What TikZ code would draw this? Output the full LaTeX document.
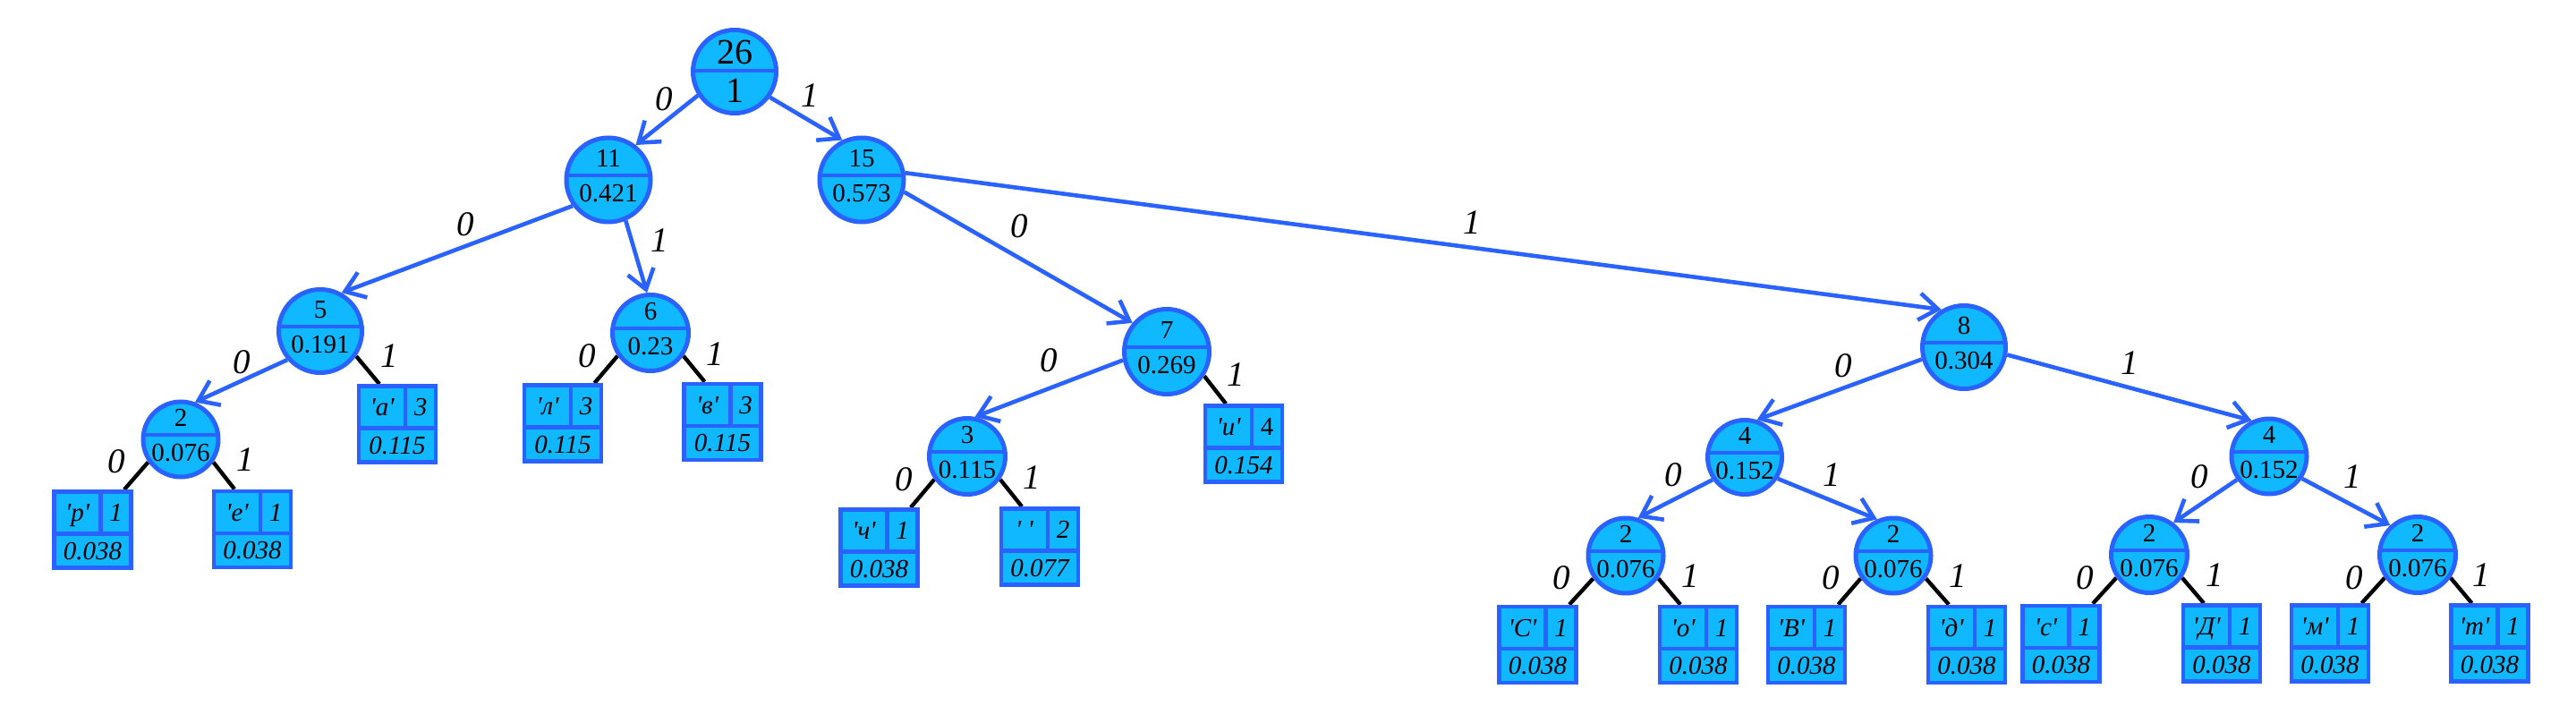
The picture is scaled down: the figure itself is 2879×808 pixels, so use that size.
\documentclass[tikz,border=0pt]{standalone}
\usepackage{fontspec}
\setmainfont{Liberation Serif}[Ligatures=TeXOff]
\usetikzlibrary{arrows.meta,calc}
\pgfdeclarelayer{bg}
\pgfsetlayers{bg,main}
\definecolor{nfill}{RGB}{16,185,255}
\definecolor{nline}{RGB}{41,98,255}
\newcommand\nfont{\fontsize{14.5pt}{17pt}\selectfont}
\newcommand\rfont{\fontsize{20pt}{23pt}\selectfont}
\newcommand\efont{\fontsize{19.5pt}{22pt}\selectfont\itshape}
\tikzset{
  hnode/.style={circle, draw=nline, fill=nfill, line width=2.5pt, inner sep=0pt,
    minimum size=#1*0.5pt,
    path picture={\draw[nline, line width=2.4pt]
      ([yshift=2.5pt]path picture bounding box.west) -- ([yshift=2.5pt]path picture bounding box.east);}},
  rnode/.style={circle, draw=nline, fill=nfill, line width=2.5pt, inner sep=0pt,
    minimum size=#1*0.5pt,
    path picture={\draw[nline, line width=2.4pt]
      ([yshift=0.5pt]path picture bounding box.west) -- ([yshift=0.5pt]path picture bounding box.east);}},
  ntext/.style={inner sep=0pt, font=\nfont, text height=9.7pt, text depth=0pt},
  rtext/.style={inner sep=0pt, font=\rfont, text height=13.4pt, text depth=0pt},
  ltext/.style={inner sep=0pt, font=\nfont\itshape, text height=9.7pt, text depth=0pt},
  elab/.style={inner sep=0pt, font=\efont, text height=13.1pt, text depth=0pt},
  leafbox/.style={rectangle, draw=nline, fill=nfill, line width=2.4pt, inner sep=0pt,
    minimum width=43pt, minimum height=42.5pt},
  leafline/.style={draw=nline, line width=2.4pt},
  arr/.style={draw=nline, line width=2.3pt, -{Straight Barb[length=10.5pt,width=15pt]}},
  blk/.style={draw=black, line width=2.2pt}
}
\newcommand\hnodeat[6]{%
  \node[hnode=#4] (#1) at (#2,#3) {};
  \node[ntext] (#1t) at ($(#1)+(0,-24)$) {#5};
  \node[ntext] (#1b) at ($(#1)+(0,15)$) {#6};}
\newcommand\hleafat[6]{%
  \node[leafbox] (#1) at (#2,#3) {};
  \draw[leafline] ($(#1.west)+(0,4.5)$) -- ($(#1.east)+(0,4.5)$);
  \draw[leafline] ($(#1.north)+(9,0)$) -- ($(#1.center)+(9,4.5)$);
  \node[ltext] (#1-c) at ($(#1)+(-17,-19)$) {#4};
  \node[ltext] (#1-n) at ($(#1)+(26,-19)$) {#5};
  \node[ltext] (#1-p) at ($(#1)+(0,23.5)$) {#6};}
\newcommand\lconn[2]{\begin{pgfonlayer}{bg}\draw[blk] (#1.-145) -- ($(#2.north west)!0.89!(#2.north east)$);\end{pgfonlayer}}
\newcommand\rconn[3][-35]{\begin{pgfonlayer}{bg}\draw[blk] (#2.#1) -- ($(#3.north west)!0.28!(#3.north east)$);\end{pgfonlayer}}
\begin{document}
\begin{tikzpicture}[x=0.5pt,y=-0.5pt]
\useasboundingbox (0,0) rectangle (2879,808);
% root
\node[rnode=93] (root) at (821,80) {};
\node[rtext] (roott) at ($(root)+(0,-22)$) {26};
\node[rtext] (rootb) at ($(root)+(0,21)$) {1};
% internal nodes
\hnodeat{n11}{680}{201}{94}{11}{0.421}
\hnodeat{n15}{963}{201}{94}{15}{0.573}
\hnodeat{n5}{358}{370}{93}{5}{0.191}
\hnodeat{n6}{727}{372}{85}{6}{0.23}
\hnodeat{n2a}{202}{491}{84}{2}{0.076}
\hnodeat{n7}{1304}{393}{95}{7}{0.269}
\hnodeat{n3}{1081}{510}{85}{3}{0.115}
\hnodeat{n8}{2195}{388}{93}{8}{0.304}
\hnodeat{n4a}{1950}{511}{83}{4}{0.152}
\hnodeat{n4b}{2536}{510}{84}{4}{0.152}
\hnodeat{n2b}{1817}{621}{84}{2}{0.076}
\hnodeat{n2c}{2116}{621}{84}{2}{0.076}
\hnodeat{n2d}{2402}{620}{85}{2}{0.076}
\hnodeat{n2e}{2702}{620}{85}{2}{0.076}
% leaves
\hleafat{leafr}{103.5}{592}{'р'}{1}{0.038}
\hleafat{leafe}{282}{591.5}{'е'}{1}{0.038}
\hleafat{leafa}{444}{474}{'а'}{3}{0.115}
\hleafat{leafl}{629}{473}{'л'}{3}{0.115}
\hleafat{leafv}{807.5}{471.5}{'в'}{3}{0.115}
\hleafat{leafch}{982.5}{612}{'ч'}{1}{0.038}
\hleafat{leafblank}{1162}{611}{' '}{2}{0.077}
\hleafat{leafi}{1390}{496}{'и'}{\upshape 4}{0.154}
\hleafat{leafSS}{1718.5}{720.5}{'С'}{1}{0.038}
\hleafat{leafo}{1898}{720.5}{'о'}{1}{0.038}
\hleafat{leafVV}{2019}{720.5}{'В'}{1}{0.038}
\hleafat{leafd}{2198}{720.5}{'д'}{1}{0.038}
\hleafat{leafs}{2303.5}{719.5}{'с'}{1}{0.038}
\hleafat{leafDD}{2483}{719}{'Д'}{1}{0.038}
\hleafat{leafm}{2604}{719}{'м'}{1}{0.038}
\hleafat{leaft}{2782.5}{719}{'т'}{1}{0.038}
% arrow edges
\draw[arr] (root.-147) -- (n11.52);
\draw[arr] (root.-36) -- (n15.116);
\draw[arr] (n11.-144) -- (n5.61);
\draw[arr] (n11.-67) -- (n6.95);
\draw[arr] (n5.-139) -- (n2a.69);
\draw[arr] (n15.-16) -- (n7.140);
\draw[arr] (n15.9) -- (n8.121);
\draw[arr] (n7.-169) -- (n3.79);
\draw[arr] (n8.-164) -- (n4a.72);
\draw[arr] (n8.-10) -- (n4b.116);
\draw[arr] (n4a.-145) -- (n2b.72);
\draw[arr] (n4a.-33) -- (n2c.114);
\draw[arr] (n4b.-144) -- (n2d.53);
\draw[arr] (n4b.-34) -- (n2e.133);
% leaf connectors
\lconn{n2a}{leafr}
\rconn{n2a}{leafe}
\rconn{n5}{leafa}
\lconn{n6}{leafl}
\rconn{n6}{leafv}
\lconn{n3}{leafch}
\rconn{n3}{leafblank}
\rconn[-33]{n7}{leafi}
\lconn{n2b}{leafSS}
\rconn{n2b}{leafo}
\lconn{n2c}{leafVV}
\rconn{n2c}{leafd}
\lconn{n2d}{leafs}
\rconn{n2d}{leafDD}
\lconn{n2e}{leafm}
\rconn{n2e}{leaft}
% edge labels
\node[elab] (e1) at (742,110) {0};
\node[elab] (e2) at (905,106) {1};
\node[elab] (e3) at (520,250) {0};
\node[elab] (e4) at (737,268) {1};
\node[elab] (e5) at (270,404) {0};
\node[elab] (e6) at (435,397) {1};
\node[elab] (e7) at (130,515) {0};
\node[elab] (e8) at (274,513) {1};
\node[elab] (e9) at (656,397) {0};
\node[elab] (e10) at (799,395) {1};
\node[elab] (e11) at (1139,252) {0};
\node[elab] (e12) at (1645,248) {1};
\node[elab] (e13) at (1172,402) {0};
\node[elab] (e14) at (1381,418) {1};
\node[elab] (e15) at (1010,535) {0};
\node[elab] (e16) at (1153,533) {1};
\node[elab] (e17) at (2060,408) {0};
\node[elab] (e18) at (2380,405) {1};
\node[elab] (e19) at (1870,530) {0};
\node[elab] (e20) at (2047,530) {1};
\node[elab] (e21) at (1745,645) {0};
\node[elab] (e22) at (1889,643) {1};
\node[elab] (e23) at (2046,645) {0};
\node[elab] (e24) at (2188,643) {1};
\node[elab] (e25) at (2458,532) {0};
\node[elab] (e26) at (2629,532) {1};
\node[elab] (e27) at (2330,645) {0};
\node[elab] (e28) at (2475,642) {1};
\node[elab] (e29) at (2631,645) {0};
\node[elab] (e30) at (2773,642) {1};
\end{tikzpicture}
\end{document}
